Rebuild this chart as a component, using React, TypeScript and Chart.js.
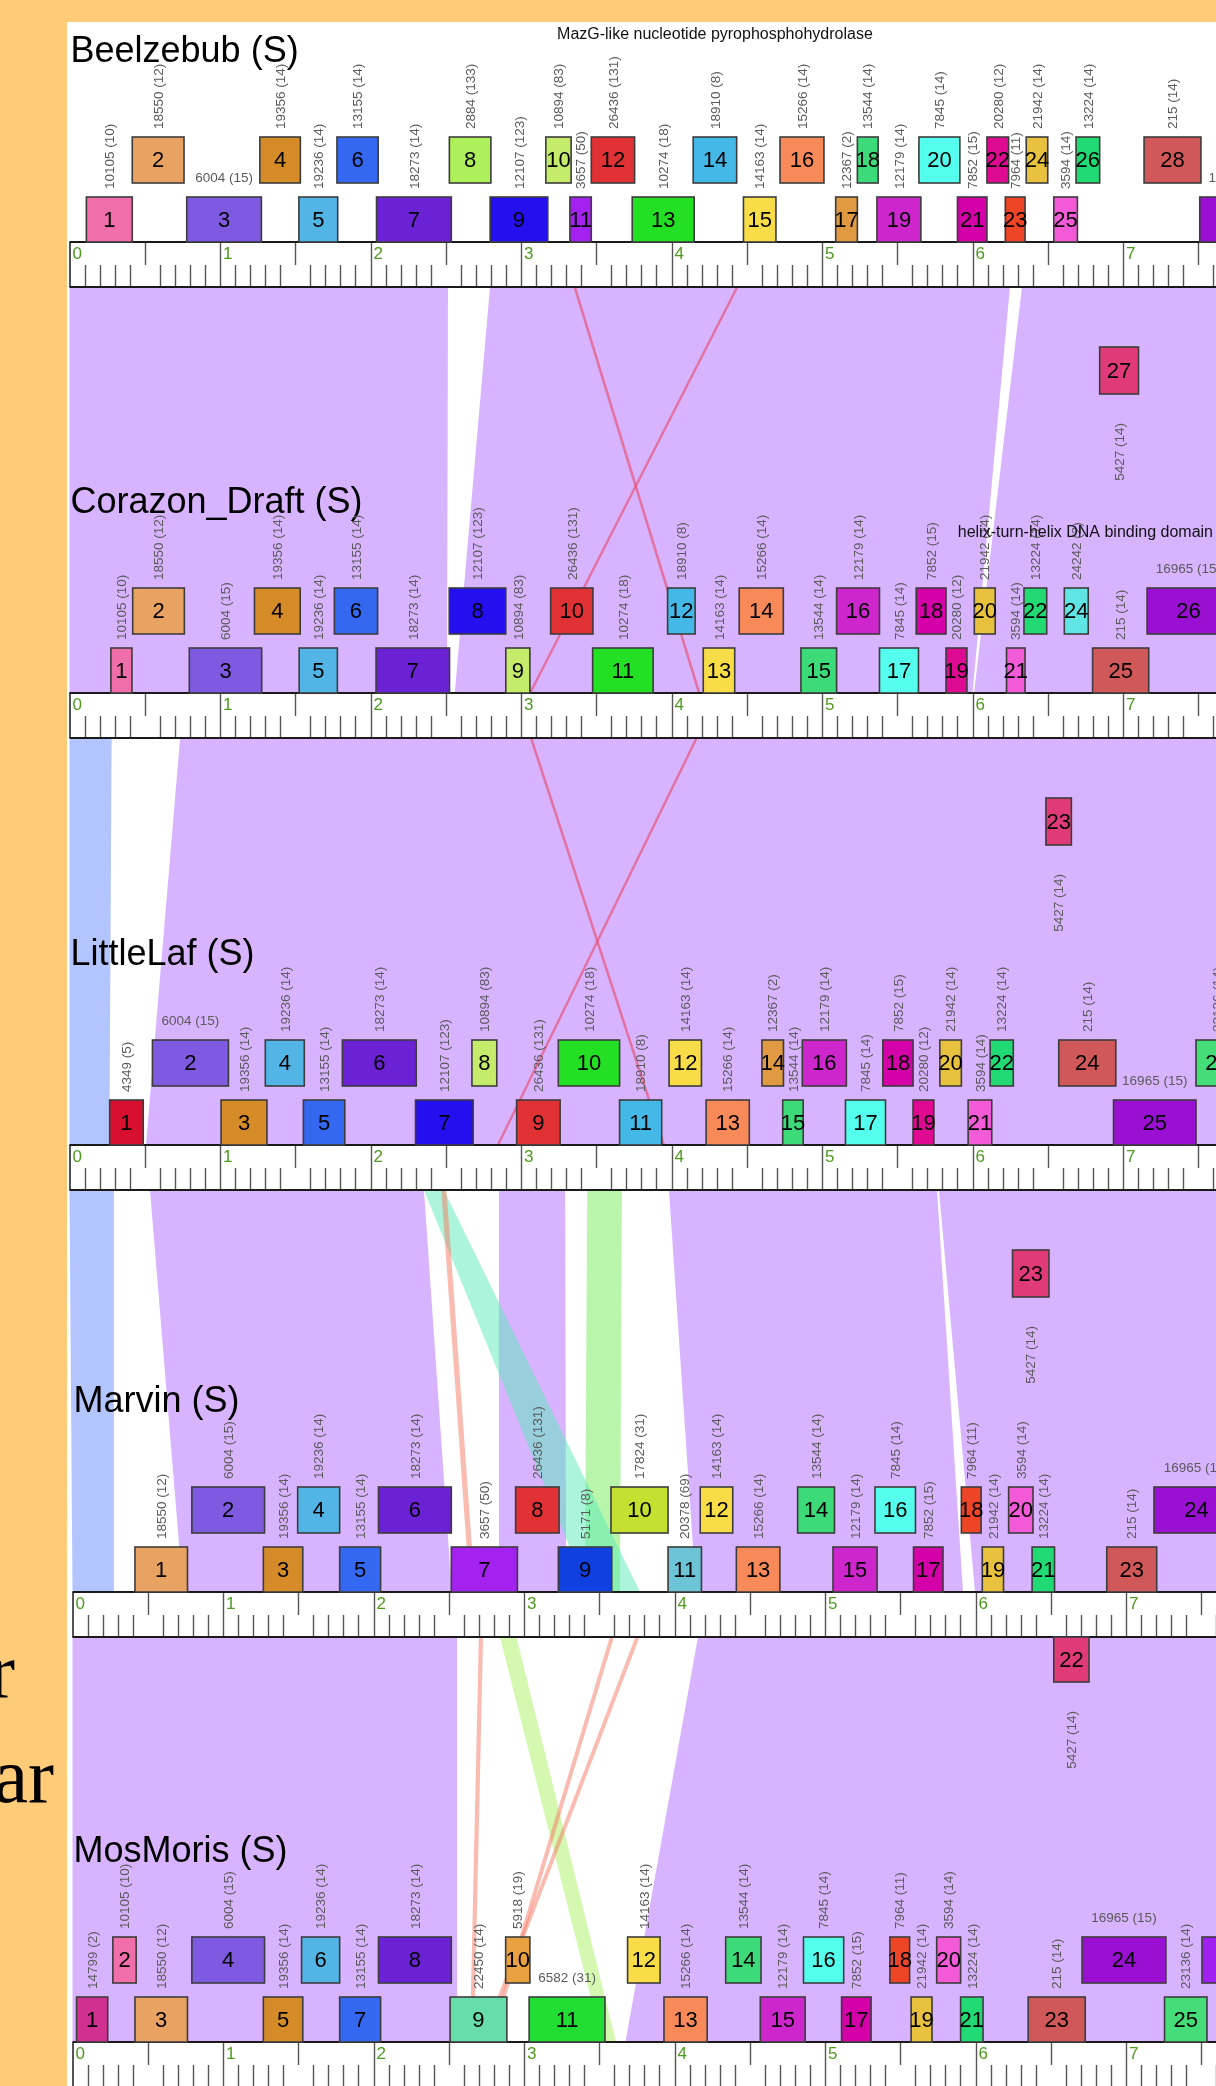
import React, { useEffect, useRef } from 'react';
import { Chart, registerables } from 'chart.js';

Chart.register(...registerables);

// ---------------- DATA ----------------
const GENOME_NAMES = ['Beelzebub (S)', 'Corazon_Draft (S)', 'LittleLaf (S)', 'Marvin (S)', 'MosMoris (S)'];

// [gene number, start (kbp), end (kbp), row, pham label, 'h' = horizontal label]
// rows: U = upper forward, L = lower forward, R1/R2 = reverse rows under the ruler
const BEELZEBUB_GENES: any[] = [
  [1, 0.112, 0.417, 'L', '10105 (10)'],
  [2, 0.417, 0.761, 'U', '18550 (12)'],
  [3, 0.779, 1.275, 'L', '6004 (15)', 'h'],
  [4, 1.265, 1.534, 'U', '19356 (14)'],
  [5, 1.524, 1.782, 'L', '19236 (14)'],
  [6, 1.777, 2.051, 'U', '13155 (14)'],
  [7, 2.040, 2.537, 'L', '18273 (14)'],
  [8, 2.524, 2.800, 'U', '2884 (133)'],
  [9, 2.795, 3.178, 'L', '12107 (123)'],
  [10, 3.165, 3.333, 'U', '10894 (83)'],
  [11, 3.325, 3.467, 'L', '3657 (50)'],
  [12, 3.467, 3.755, 'U', '26436 (131)'],
  [13, 3.739, 4.151, 'L', '10274 (18)'],
  [14, 4.144, 4.433, 'U', '18910 (8)'],
  [15, 4.478, 4.694, 'L', '14163 (14)'],
  [16, 4.721, 5.013, 'U', '15266 (14)'],
  [17, 5.091, 5.235, 'L', '12367 (2)'],
  [18, 5.235, 5.373, 'U', '13544 (14)'],
  [19, 5.365, 5.657, 'L', '12179 (14)'],
  [20, 5.644, 5.916, 'U', '7845 (14)'],
  [21, 5.900, 6.096, 'L', '7852 (15)'],
  [22, 6.096, 6.240, 'U', '20280 (12)'],
  [23, 6.218, 6.349, 'L', '7964 (11)'],
  [24, 6.357, 6.500, 'U', '21942 (14)'],
  [25, 6.540, 6.697, 'L', '3594 (14)'],
  [26, 6.688, 6.845, 'U', '13224 (14)'],
  [27, 6.845, 7.103, 'R2', '5427 (14)'],
  [28, 7.140, 7.518, 'U', '215 (14)'],
  [29, 7.510, 8.060, 'L', '16965 (15)', 'h'],
];

const CORAZON_GENES: any[] = [
  [1, 0.275, 0.415, 'L', '10105 (10)'],
  [2, 0.420, 0.763, 'U', '18550 (12)'],
  [3, 0.796, 1.277, 'L', '6004 (15)'],
  [4, 1.229, 1.533, 'U', '19356 (14)'],
  [5, 1.526, 1.780, 'L', '19236 (14)'],
  [6, 1.760, 2.047, 'U', '13155 (14)'],
  [7, 2.037, 2.525, 'L', '18273 (14)'],
  [8, 2.523, 2.899, 'U', '12107 (123)'],
  [9, 2.899, 3.059, 'L', '10894 (83)'],
  [10, 3.197, 3.478, 'U', '26436 (131)'],
  [11, 3.476, 3.878, 'L', '10274 (18)'],
  [12, 3.974, 4.157, 'U', '18910 (8)'],
  [13, 4.211, 4.420, 'L', '14163 (14)'],
  [14, 4.450, 4.743, 'U', '15266 (14)'],
  [15, 4.860, 5.097, 'L', '13544 (14)'],
  [16, 5.097, 5.382, 'U', '12179 (14)'],
  [17, 5.382, 5.641, 'L', '7845 (14)'],
  [18, 5.626, 5.824, 'U', '7852 (15)'],
  [19, 5.824, 5.963, 'L', '20280 (12)'],
  [20, 6.012, 6.151, 'U', '21942 (14)'],
  [21, 6.226, 6.349, 'L', '3594 (14)'],
  [22, 6.342, 6.493, 'U', '13224 (14)'],
  [23, 6.488, 6.657, 'R2', '5427 (14)'],
  [24, 6.610, 6.769, 'U', '24242 (2)'],
  [25, 6.798, 7.171, 'L', '215 (14)'],
  [26, 7.160, 7.710, 'U', '16965 (15)', 'h'],
];

const LITTLELAF_GENES: any[] = [
  [1, 0.267, 0.490, 'L', '4349 (5)'],
  [2, 0.551, 1.056, 'U', '6004 (15)', 'h'],
  [3, 1.007, 1.312, 'L', '19356 (14)'],
  [4, 1.301, 1.560, 'U', '19236 (14)'],
  [5, 1.554, 1.829, 'L', '13155 (14)'],
  [6, 1.813, 2.304, 'U', '18273 (14)'],
  [7, 2.299, 2.682, 'L', '12107 (123)'],
  [8, 2.674, 2.839, 'U', '10894 (83)'],
  [9, 2.971, 3.260, 'L', '26436 (131)'],
  [10, 3.248, 3.655, 'U', '10274 (18)'],
  [11, 3.655, 3.935, 'L', '18910 (8)'],
  [12, 3.984, 4.199, 'U', '14163 (14)'],
  [13, 4.230, 4.517, 'L', '15266 (14)'],
  [14, 4.601, 4.744, 'U', '12367 (2)'],
  [15, 4.739, 4.875, 'L', '13544 (14)'],
  [16, 4.869, 5.162, 'U', '12179 (14)'],
  [17, 5.156, 5.422, 'L', '7845 (14)'],
  [18, 5.404, 5.605, 'U', '7852 (15)'],
  [19, 5.605, 5.743, 'L', '20280 (12)'],
  [20, 5.783, 5.926, 'U', '21942 (14)'],
  [21, 5.971, 6.128, 'L', '3594 (14)'],
  [22, 6.117, 6.271, 'U', '13224 (14)'],
  [23, 6.266, 6.508, 'R2', '5427 (14)'],
  [24, 6.573, 6.952, 'U', '215 (14)'],
  [25, 6.937, 7.485, 'L', '16965 (15)', 'h'],
  [26, 7.485, 7.770, 'U', '23136 (14)'],
];

const MARVIN_GENES: any[] = [
  [1, 0.415, 0.764, 'L', '18550 (12)'],
  [2, 0.793, 1.276, 'U', '6004 (15)'],
  [3, 1.268, 1.530, 'L', '19356 (14)'],
  [4, 1.496, 1.775, 'U', '19236 (14)'],
  [5, 1.775, 2.047, 'L', '13155 (14)'],
  [6, 2.033, 2.517, 'U', '18273 (14)'],
  [7, 2.517, 2.956, 'L', '3657 (50)'],
  [8, 2.944, 3.233, 'U', '26436 (131)'],
  [9, 3.228, 3.583, 'L', '5171 (8)'],
  [10, 3.578, 3.957, 'U', '17824 (31)'],
  [11, 3.957, 4.179, 'L', '20378 (69)'],
  [12, 4.171, 4.387, 'U', '14163 (14)'],
  [13, 4.411, 4.700, 'L', '15266 (14)'],
  [14, 4.818, 5.063, 'U', '13544 (14)'],
  [15, 5.053, 5.346, 'L', '12179 (14)'],
  [16, 5.332, 5.601, 'U', '7845 (14)'],
  [17, 5.588, 5.784, 'L', '7852 (15)'],
  [18, 5.906, 6.037, 'U', '7964 (11)'],
  [19, 6.045, 6.186, 'L', '21942 (14)'],
  [20, 6.220, 6.382, 'U', '3594 (14)'],
  [21, 6.376, 6.525, 'L', '13224 (14)'],
  [22, 6.520, 6.754, 'R1', '5427 (14)'],
  [23, 6.872, 7.204, 'L', '215 (14)'],
  [24, 7.186, 7.750, 'U', '16965 (15)', 'h'],
];

const MOSMORIS_GENES: any[] = [
  [1, 0.027, 0.234, 'L', '14799 (2)'],
  [2, 0.268, 0.423, 'U', '10105 (10)'],
  [3, 0.415, 0.764, 'L', '18550 (12)'],
  [4, 0.793, 1.276, 'U', '6004 (15)'],
  [5, 1.268, 1.530, 'L', '19356 (14)'],
  [6, 1.522, 1.775, 'U', '19236 (14)'],
  [7, 1.775, 2.047, 'L', '13155 (14)'],
  [8, 2.033, 2.517, 'U', '18273 (14)'],
  [9, 2.509, 2.886, 'L', '22450 (14)'],
  [10, 2.878, 3.039, 'U', '5918 (19)'],
  [11, 3.034, 3.538, 'L', '6582 (31)', 'h'],
  [12, 3.688, 3.904, 'U', '14163 (14)'],
  [13, 3.930, 4.217, 'L', '15266 (14)'],
  [14, 4.340, 4.575, 'U', '13544 (14)'],
  [15, 4.570, 4.868, 'L', '12179 (14)'],
  [16, 4.857, 5.124, 'U', '7845 (14)'],
  [17, 5.110, 5.306, 'L', '7852 (15)'],
  [18, 5.431, 5.562, 'U', '7964 (11)'],
  [19, 5.572, 5.711, 'L', '21942 (14)'],
  [20, 5.742, 5.901, 'U', '3594 (14)'],
  [21, 5.901, 6.050, 'L', '13224 (14)'],
  [23, 6.350, 6.729, 'L', '215 (14)'],
  [24, 6.708, 7.265, 'U', '16965 (15)', 'h'],
  [25, 7.256, 7.538, 'L', '23136 (14)'],
  [26, 7.505, 8.000, 'U', ''],
];

const GENOMES = [BEELZEBUB_GENES, CORAZON_GENES, LITTLELAF_GENES, MARVIN_GENES, MOSMORIS_GENES];

const PHAM_COLORS: Record<string, string> = {
  '10105': '#F06EA9', '18550': '#E8A362', '6004': '#7E5AE0', '19356': '#D58B28',
  '19236': '#52B5E5', '13155': '#3468F0', '18273': '#6A22D4', '2884': '#AEF05A',
  '12107': '#2410EE', '10894': '#C4EC6A', '3657': '#A322F0', '26436': '#E03234',
  '10274': '#24E024', '18910': '#44B8E6', '14163': '#F8DC48', '15266': '#F88A5A',
  '12367': '#E09A42', '13544': '#3CDA78', '12179': '#CC26CC', '7845': '#55FFEE',
  '7852': '#D400A8', '20280': '#DE0A92', '7964': '#EE4526', '21942': '#E8C23F',
  '3594': '#F25AD8', '13224': '#22DA74', '5427': '#E03B78', '215': '#D05858',
  '16965': '#9A10D2', '24242': '#60E4E4', '4349': '#D81030', '5171': '#1040E0',
  '17824': '#C4E030', '20378': '#6CC4D6', '14799': '#D03090', '22450': '#66DDAA',
  '5918': '#E8A040', '6582': '#22DD33', '23136': '#44DD77',
};

// similarity regions between neighbouring genomes:
// [upper start kbp, upper end kbp, lower start kbp, lower end kbp, kind]
const GAP_BEELZEBUB_CORAZON: any[] = [
  [0, 2.515, 0, 2.508, 'P'],
  [2.794, 6.249, 2.560, 6.000, 'P'],
  [6.329, 8.2, 6.010, 8.2, 'P'],
  [3.348, 3.366, 4.175, 4.193, 'R'],
  [4.428, 4.446, 3.052, 3.070, 'R'],
];
const GAP_CORAZON_LITTLELAF: any[] = [
  [0, 0.280, 0, 0.265, 'B'],
  [0.735, 8.2, 0.508, 8.2, 'P'],
  [3.058, 3.076, 3.940, 3.958, 'R'],
  [4.158, 4.176, 2.838, 2.856, 'R'],
];
const GAP_LITTLELAF_MARVIN: any[] = [
  [0, 0.295, 0, 0.275, 'B'],
  [0.535, 2.355, 0.734, 2.520, 'P'],
  [2.854, 3.293, 2.834, 3.280, 'P'],
  [3.440, 3.670, 3.405, 3.638, 'G'],
  [2.355, 2.488, 3.425, 3.771, 'C'],
  [2.470, 2.505, 2.640, 2.675, 'S'],
  [3.983, 5.764, 4.143, 5.917, 'P'],
  [5.777, 8.2, 5.997, 8.2, 'P'],
];
const GAP_MARVIN_MOSMORIS: any[] = [
  [0, 2.555, 0, 2.555, 'P'],
  [2.700, 2.728, 2.640, 2.668, 'S'],
  [2.840, 2.950, 3.518, 3.611, 'Y'],
  [3.570, 3.598, 2.760, 2.788, 'S'],
  [3.740, 3.768, 2.710, 2.738, 'S'],
  [4.156, 8.2, 3.674, 8.2, 'P'],
];
const GAPS = [GAP_BEELZEBUB_CORAZON, GAP_CORAZON_LITTLELAF, GAP_LITTLELAF_MARVIN, GAP_MARVIN_MOSMORIS];

// [genome index, centre (kbp), text]
const DESCRIPTIONS: any[] = [
  [0, 4.2885, 'MazG-like nucleotide pyrophosphohydrolase'],
  [1, 6.750, 'helix-turn-helix DNA binding domain'],
];

const RULER_LABELS = ['0', '1', '2', '3', '4', '5', '6', '7', '8'];
const SIDE_TEXT = ['r', 'ar'];

// ---------------- LAYOUT / STYLE ----------------
const W = 1216;
const H = 2086;
const ORIGIN_PX = 69.5;
const PX_PER_KBP = 150.5;
const RULER_TOP = [242, 693, 1145, 1592, 2042];
const GENOME_SHIFT = [0, 0, 0, 0.02, 0.02];
const RULER_H = 45;
const DESC_DY = [-203, -156];
const SIDE_TEXT_POS = [[15, 1697], [54, 1802]];
const PANEL = { x: 67, y: 22 };
const FONT = '"Liberation Sans", Arial, Helvetica, sans-serif';
const GAP_COLORS: Record<string, string> = {
  P: 'rgba(178,104,255,0.5)',
  B: 'rgba(104,140,255,0.5)',
  C: 'rgba(90,235,185,0.5)',
  G: 'rgba(115,235,85,0.5)',
  Y: 'rgba(172,242,100,0.5)',
  S: 'rgba(245,120,100,0.5)',
  R: 'rgba(232,80,110,0.65)',
};

const mapPlugin = {
  id: 'genomeMap',
  afterDraw(chart: any) {
    const ctx: CanvasRenderingContext2D = chart.ctx;
    const xs = chart.scales.x;
    const ys = chart.scales.y;
    const X = (g: number, k: number) => xs.getPixelForValue(k + GENOME_SHIFT[g]);
    const Y = (v: number) => ys.getPixelForValue(v);

    ctx.save();
    // background
    ctx.fillStyle = '#FECB78';
    ctx.fillRect(0, 0, W, H);
    ctx.fillStyle = '#000';
    ctx.font = '78px "Liberation Serif", "Times New Roman", serif';
    ctx.textAlign = 'right';
    ctx.textBaseline = 'alphabetic';
    SIDE_TEXT.forEach((t, i) => ctx.fillText(t, SIDE_TEXT_POS[i][0], SIDE_TEXT_POS[i][1]));
    ctx.fillStyle = '#FFFFFF';
    ctx.fillRect(PANEL.x, PANEL.y, W - PANEL.x, H - PANEL.y);

    // similarity regions
    GAPS.forEach((gap, gi) => {
      const yTop = Y(RULER_TOP[gi] + RULER_H);
      const yBot = Y(RULER_TOP[gi + 1]);
      gap.forEach((r: any) => {
        ctx.beginPath();
        ctx.moveTo(X(gi, r[0]), yTop);
        ctx.lineTo(X(gi, r[1]), yTop);
        ctx.lineTo(X(gi + 1, r[3]), yBot);
        ctx.lineTo(X(gi + 1, r[2]), yBot);
        ctx.closePath();
        ctx.fillStyle = GAP_COLORS[r[4]];
        ctx.fill();
      });
    });

    GENOMES.forEach((genes, g) => {
      const rt = RULER_TOP[g];
      // title
      ctx.fillStyle = '#000';
      ctx.font = '36px ' + FONT;
      ctx.textAlign = 'left';
      ctx.textBaseline = 'alphabetic';
      ctx.fillText(GENOME_NAMES[g], X(g, 0) + 1, Y(rt - 180));

      // ruler
      const x0 = X(g, 0);
      ctx.fillStyle = '#FFFFFF';
      ctx.fillRect(x0, Y(rt), W + 10 - x0, RULER_H);
      ctx.strokeStyle = '#555';
      ctx.lineWidth = 1.4;
      for (let i = 1; i <= 80; i++) {
        const x = Math.round(X(g, i / 10)) + 0.5;
        if (x > W + 2) break;
        let a = rt, b = rt + RULER_H;
        if (i % 10 === 0) { a = rt; b = rt + RULER_H; }
        else if (i % 5 === 0) { a = rt; b = rt + 23; }
        else { a = rt + 23; b = rt + RULER_H; }
        ctx.beginPath();
        ctx.moveTo(x, Y(a));
        ctx.lineTo(x, Y(b));
        ctx.stroke();
      }
      ctx.strokeStyle = '#1a1a1a';
      ctx.lineWidth = 2.2;
      ctx.beginPath();
      ctx.moveTo(x0, Y(rt)); ctx.lineTo(W + 5, Y(rt));
      ctx.moveTo(x0, Y(rt + RULER_H)); ctx.lineTo(W + 5, Y(rt + RULER_H));
      ctx.stroke();
      ctx.lineWidth = 1.5;
      ctx.beginPath();
      ctx.moveTo(x0 + 0.5, Y(rt)); ctx.lineTo(x0 + 0.5, Y(rt + RULER_H));
      ctx.stroke();
      ctx.fillStyle = '#4E9A1E';
      ctx.font = '17px ' + FONT;
      ctx.textAlign = 'left';
      RULER_LABELS.forEach((lab, n) => {
        ctx.fillText(lab, X(g, n) + 3, Y(rt + 16.5));
      });

      // genes
      genes.forEach((gn: any) => {
        const [num, s, e, row, label, orient] = gn;
        let top = 0, bot = 0;
        if (row === 'U') { top = rt - 105; bot = rt - 59; }
        else if (row === 'L') { top = rt - 45; bot = rt; }
        else if (row === 'R1') { top = rt + RULER_H; bot = rt + RULER_H + 45; }
        else { top = rt + RULER_H + 60; bot = rt + RULER_H + 107; }
        const xa = X(g, s), xb = X(g, e);
        const pham = String(label).split(' ')[0];
        ctx.fillStyle = PHAM_COLORS[pham] || '#A020F0';
        ctx.fillRect(xa, Y(top), xb - xa, Y(bot) - Y(top));
        ctx.strokeStyle = '#3c3c3c';
        ctx.lineWidth = 1.6;
        ctx.strokeRect(xa, Y(top), xb - xa, Y(bot) - Y(top));
        const cx = (xa + xb) / 2;
        ctx.fillStyle = '#000';
        ctx.font = '22px ' + FONT;
        ctx.textAlign = 'center';
        ctx.textBaseline = 'middle';
        ctx.fillText(String(num), cx, Y((top + bot) / 2) + 1);

        if (!label) return;
        ctx.fillStyle = '#5a5a5a';
        ctx.font = '13.5px ' + FONT;
        if (orient === 'h') {
          ctx.textAlign = 'center';
          ctx.textBaseline = 'alphabetic';
          ctx.fillText(label, cx, Y(top - 15));
        } else if (row === 'U' || row === 'L') {
          ctx.save();
          ctx.translate(cx + 1, Y(top - 8));
          ctx.rotate(-Math.PI / 2);
          ctx.textAlign = 'left';
          ctx.textBaseline = 'middle';
          ctx.fillText(label, 0, 0);
          ctx.restore();
        } else {
          ctx.save();
          ctx.translate(cx + 1, Y(bot + 29));
          ctx.rotate(-Math.PI / 2);
          ctx.textAlign = 'right';
          ctx.textBaseline = 'middle';
          ctx.fillText(label, 0, 0);
          ctx.restore();
        }
      });
    });

    // function descriptions
    DESCRIPTIONS.forEach((d: any, i: number) => {
      const [g, k, text] = d;
      ctx.fillStyle = '#111';
      ctx.font = '16px ' + FONT;
      ctx.textAlign = 'center';
      ctx.textBaseline = 'alphabetic';
      ctx.fillText(text, X(g, k), Y(RULER_TOP[g] + DESC_DY[i]));
    });
    ctx.restore();
  },
};

export default function App() {
  const ref = useRef<HTMLCanvasElement | null>(null);
  useEffect(() => {
    document.body.style.margin = '0';
    const canvas = ref.current;
    if (!canvas) return;
    const chart = new Chart(canvas, {
      type: 'scatter',
      data: { datasets: [] },
      options: {
        responsive: false,
        animation: false,
        devicePixelRatio: 1,
        layout: { padding: 0 },
        plugins: { legend: { display: false }, tooltip: { enabled: false }, title: { display: false } },
        scales: {
          x: { type: 'linear', display: false, min: -ORIGIN_PX / PX_PER_KBP, max: (W - ORIGIN_PX) / PX_PER_KBP },
          y: { type: 'linear', display: false, min: 0, max: H, reverse: true },
        },
      },
      plugins: [mapPlugin],
    } as any);
    return () => chart.destroy();
  }, []);
  return (
    <div style={{ position: 'absolute', left: 0, top: 0, width: W, height: H, overflow: 'hidden' }}>
      <canvas ref={ref} width={W} height={H} style={{ display: 'block', width: W, height: H }} />
    </div>
  );
}
